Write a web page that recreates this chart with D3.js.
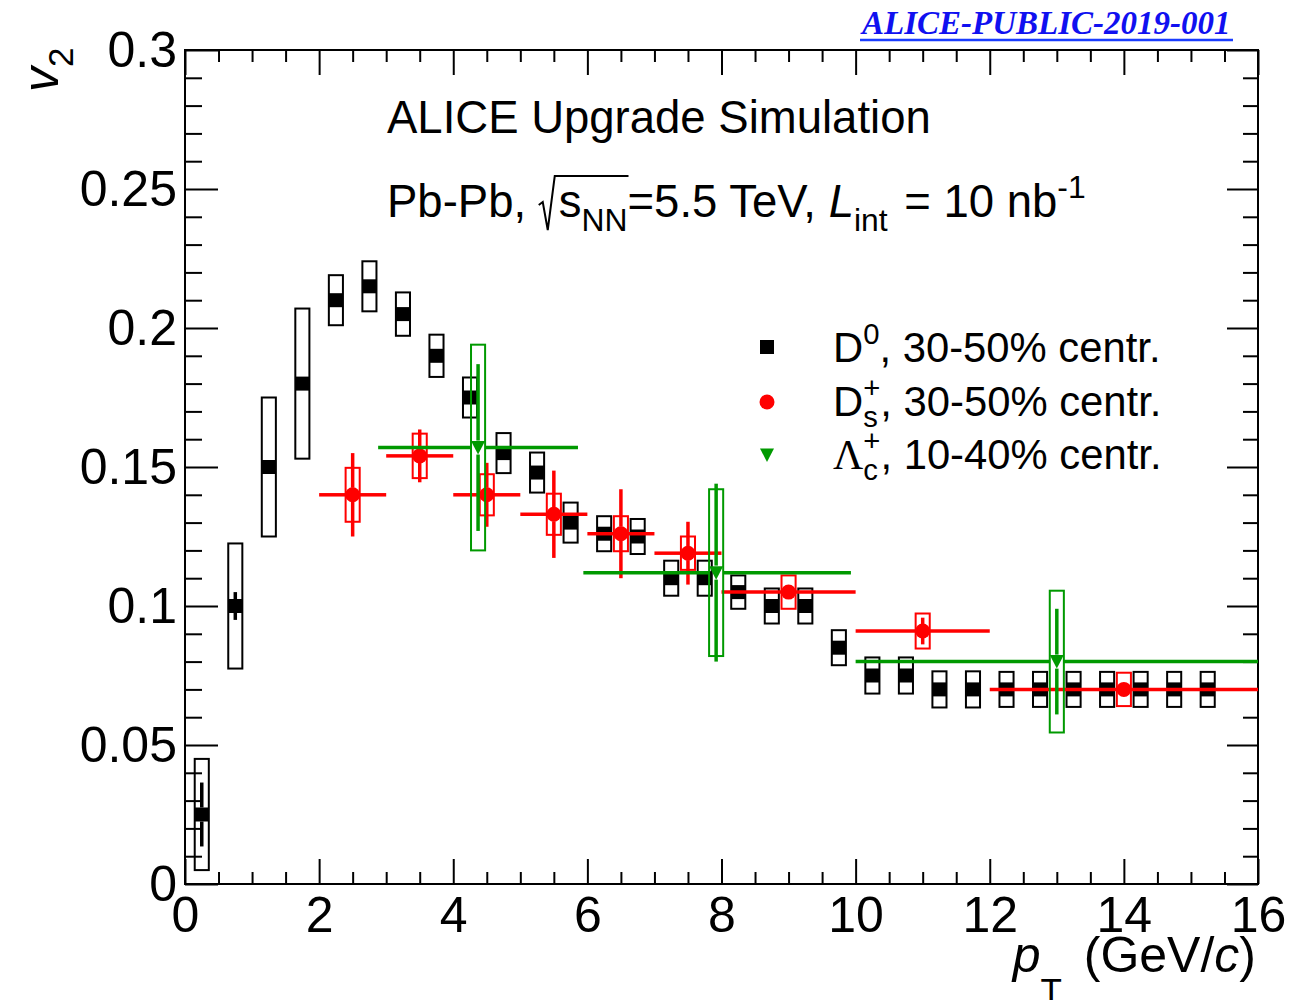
<!DOCTYPE html>
<html><head><meta charset="utf-8">
<script src="https://cdn.jsdelivr.net/npm/d3@7"></script>
<style>body{margin:0;background:#fff} svg{display:block}</style>
</head><body>
<svg id="c" width="1315" height="1000"></svg>
<script>
// ---------------- data ----------------
const ptD0 = [0.25,0.75,1.25,1.75,2.25,2.75,3.25,3.75,4.25,4.75,5.25,5.75,6.25,6.75,7.25,7.75,8.25,8.75,9.25,9.75,10.25,10.75,11.25,11.75,12.25,12.75,13.25,13.75,14.25,14.75,15.25];
const v2D0 = [0.025,0.100,0.150,0.180,0.210,0.215,0.205,0.190,0.175,0.155,0.148,0.130,0.126,0.125,0.110,0.110,0.105,0.100,0.100,0.085,0.075,0.075,0.070,0.070,0.070,0.070,0.070,0.070,0.070,0.070,0.070];
const statD0 = [0.0115,0.005,0.002,0.002,0.002,0.002,0.002,0.002,0.002,0.002,0.002,0.002,0.002,0.002,0.002,0.002,0.002,0.002,0.002,0.002,0.002,0.002,0.002,0.002,0.002,0.002,0.002,0.002,0.002,0.002,0.002];
const sysD0 = [0.020,0.0225,0.025,0.027,0.009,0.009,0.0078,0.0076,0.0072,0.0072,0.0072,0.0072,0.0063,0.0063,0.0063,0.0063,0.006,0.0063,0.0063,0.0063,0.0065,0.0065,0.0065,0.0065,0.0063,0.0063,0.0063,0.0063,0.0063,0.0063,0.0063];

const ptDs = [2.5,3.5,4.5,5.5,6.5,7.5,9,11,14];
const loDs = [2,3,4,5,6,7,8,10,12];
const hiDs = [3,4,5,6,7,8,10,12,16];
const v2Ds = [0.140,0.154,0.140,0.133,0.126,0.119,0.105,0.091,0.070];
const statDs = [0.015,0.0095,0.0115,0.0157,0.016,0.0113,0.002,0.0048,0.002];
const sysDs = [0.0097,0.008,0.0074,0.0074,0.0063,0.006,0.006,0.0063,0.006];

const ptLc = [4.37,7.92,13.0];
const loLc = [2.88,5.94,10.0];
const hiLc = [5.86,9.93,16.0];
const v2Lc = [0.157,0.112,0.080];
const statLc = [0.030,0.032,0.019];
const sysLc = [0.037,0.030,0.0255];

const xMajor = [0,2,4,6,8,10,12,14,16];
const xMinor = [0.5,1,1.5,2.5,3,3.5,4.5,5,5.5,6.5,7,7.5,8.5,9,9.5,10.5,11,11.5,12.5,13,13.5,14.5,15,15.5];
const yMajor = [0,0.05,0.1,0.15,0.2,0.25,0.3];
const yMajorLabels = ["0","0.05","0.1","0.15","0.2","0.25","0.3"];
const yMinor = [0.01,0.02,0.03,0.04,0.06,0.07,0.08,0.09,0.11,0.12,0.13,0.14,0.16,0.17,0.18,0.19,0.21,0.22,0.23,0.24,0.26,0.27,0.28,0.29];

// ---------------- setup ----------------
const FONT = "'Liberation Sans', Arial, Helvetica, sans-serif";
const SERIF = "'Liberation Serif', 'Times New Roman', serif";
const svg = d3.select("#c");
const X0 = 185, X1 = 1258, YB = 884, YT = 50;
const x = d3.scaleLinear().domain([0,16]).range([X0,X1]);
const y = d3.scaleLinear().domain([0,0.3]).range([YB,YT]);
const RED = "#ff0000", GREEN = "#009900", BLACK = "#000000";
const BOXW = 0.105, GAP = 7;

// ---------------- axes ----------------
function styleAxis(g){ g.select(".domain").remove(); g.selectAll("line").attr("stroke","#000").attr("stroke-width",2); g.selectAll("text").attr("font-family",FONT).attr("font-size",50).attr("fill","#000"); }
svg.append("g").attr("transform",`translate(0,${YB})`).call(d3.axisBottom(x).tickValues(xMajor).tickSize(-25).tickPadding(12).tickFormat(d3.format("d"))).call(styleAxis);
svg.append("g").attr("transform",`translate(0,${YB})`).call(d3.axisBottom(x).tickValues(xMinor).tickSize(-12).tickFormat("")).call(styleAxis);
svg.append("g").attr("transform",`translate(0,${YT})`).call(d3.axisTop(x).tickValues(xMajor).tickSize(-25).tickFormat("")).call(styleAxis);
svg.append("g").attr("transform",`translate(0,${YT})`).call(d3.axisTop(x).tickValues(xMinor).tickSize(-12).tickFormat("")).call(styleAxis);
svg.append("g").attr("transform",`translate(${X0},0)`).call(d3.axisLeft(y).tickValues(yMajor).tickSize(-33).tickPadding(8).tickFormat((d,i)=>yMajorLabels[i])).call(styleAxis);
svg.append("g").attr("transform",`translate(${X0},0)`).call(d3.axisLeft(y).tickValues(yMinor).tickSize(-17).tickFormat("")).call(styleAxis);
svg.append("g").attr("transform",`translate(${X1},0)`).call(d3.axisRight(y).tickValues(yMajor).tickSize(-31).tickFormat("")).call(styleAxis);
svg.append("g").attr("transform",`translate(${X1},0)`).call(d3.axisRight(y).tickValues(yMinor).tickSize(-15).tickFormat("")).call(styleAxis);
svg.append("rect").attr("x",X0).attr("y",YT).attr("width",X1-X0).attr("height",YB-YT).attr("fill","none").attr("stroke","#000").attr("stroke-width",2);

// ---------------- series ----------------
function drawMarker(g, type, cx, cy, color){
  if(type==="square") g.append("rect").attr("x",cx-7).attr("y",cy-7).attr("width",14).attr("height",14).attr("fill",color);
  else if(type==="circle") g.append("circle").attr("cx",cx).attr("cy",cy).attr("r",7.5).attr("fill",color);
  else g.append("path").attr("d",`M${cx-7},${cy-6.5}L${cx+7},${cy-6.5}L${cx},${cy+7}Z`).attr("fill",color);
}
function drawSeries(pts, vals, stat, sys, lo, hi, color, marker){
  const g = svg.append("g");
  const idx = d3.range(pts.length);
  g.selectAll(null).data(idx).join("rect")
    .attr("x", i=>x(pts[i]-BOXW)).attr("width", i=>x(pts[i]+BOXW)-x(pts[i]-BOXW))
    .attr("y", i=>y(vals[i]+sys[i])).attr("height", i=>y(vals[i]-sys[i])-y(vals[i]+sys[i]))
    .attr("fill","none").attr("stroke",color).attr("stroke-width",2);
  idx.forEach(i=>{
    const cx = x(pts[i]), cy = y(vals[i]);
    const yt = y(vals[i]+stat[i]), yb = y(vals[i]-stat[i]);
    if (yt < cy-GAP) g.append("line").attr("x1",cx).attr("x2",cx).attr("y1",yt).attr("y2",cy-GAP).attr("stroke",color).attr("stroke-width",3.5);
    if (yb > cy+GAP) g.append("line").attr("x1",cx).attr("x2",cx).attr("y1",cy+GAP).attr("y2",yb).attr("stroke",color).attr("stroke-width",3.5);
    if (lo) {
      g.append("line").attr("x1",x(lo[i])).attr("x2",cx-GAP).attr("y1",cy).attr("y2",cy).attr("stroke",color).attr("stroke-width",3.5);
      g.append("line").attr("x1",cx+GAP).attr("x2",x(hi[i])).attr("y1",cy).attr("y2",cy).attr("stroke",color).attr("stroke-width",3.5);
    }
    drawMarker(g, marker, cx, cy, color);
  });
}
drawSeries(ptD0, v2D0, statD0, sysD0, null, null, BLACK, "square");
drawSeries(ptDs, v2Ds, statDs, sysDs, loDs, hiDs, RED, "circle");
drawSeries(ptLc, v2Lc, statLc, sysLc, loLc, hiLc, GREEN, "tri");

// ---------------- rich text ----------------
function rich(x0, y0, segs, size, opts){
  opts = opts||{};
  const subS = opts.sub!==undefined ? opts.sub : 0.3, supS = opts.sup!==undefined ? opts.sup : 0.42;
  const g = svg.append("g");
  let cx = 0; const marks = {};
  const mk = (t, px, py, fs, fam, it) => g.append("text").attr("x",px).attr("y",py).attr("font-size",fs)
      .attr("font-family",fam||FONT).attr("font-style",it?"italic":"normal").attr("xml:space","preserve")
      .style("white-space","pre").attr("fill","#000").text(t);
  segs.forEach(s=>{
    if (s.mark){ marks[s.mark]=cx; cx += (s.w||0); return; }
    if (s.stack){
      const a = mk(s.stack[0], cx, -supS*size, size*0.7), b = mk(s.stack[1], cx, subS*size, size*0.7);
      cx += Math.max(a.node().getComputedTextLength(), b.node().getComputedTextLength()); return;
    }
    const fs = size*((s.sub||s.sup)?0.7:1);
    const dy = s.sub ? subS*size : s.sup ? -supS*size : 0;
    const el = mk(s.t, cx, dy, fs, s.fam, s.it);
    cx += el.node().getComputedTextLength() + (s.dx||0);
  });
  const off = opts.anchor==="end" ? -cx : 0;
  g.attr("transform",`translate(${x0},${y0}) rotate(${opts.rot||0}) translate(${off},0)`);
  return {g, marks, width:cx};
}

// header texts
rich(387, 133, [{t:"ALICE Upgrade Simulation"}], 45.5);
const r2 = rich(387, 217, [{t:"Pb-Pb, "},{mark:"s0",w:20},{t:"s"},{t:"NN",sub:1},{mark:"s1"},{t:"=5.5 TeV, "},{t:"L",it:1},{t:"int",sub:1,dx:4},{t:" = 10 nb"},{t:"-1",sup:1}], 45.5);
{
  const a = r2.marks.s0, b = r2.marks.s1;
  r2.g.append("path").attr("d",`M${a},${-12}L${a+4},${-15}L${a+9},${13}L${a+16},${-41}L${b+1},${-41}`)
    .attr("fill","none").attr("stroke","#000").attr("stroke-width",2);
}

// axis titles
rich(1256, 972, [{t:"p",it:1},{t:"T",sub:1,dx:8},{t:" (GeV/"},{t:"c",it:1},{t:")"}], 50, {anchor:"end", sub:0.62});
rich(58, 92, [{t:"v",it:1},{t:"2",sub:1}], 50, {rot:-90});

// legend
drawMarker(svg, "square", 767, 347, BLACK);
drawMarker(svg, "circle", 767, 402, RED);
drawMarker(svg, "tri", 767, 455, GREEN);
rich(833, 362, [{t:"D"},{t:"0",sup:1},{t:", 30-50% centr."}], 41.8);
rich(833, 416, [{t:"D"},{stack:["+","s"]},{t:", 30-50% centr."}], 41.8, {sub:0.27});
rich(833, 469, [{t:"Λ",fam:SERIF},{stack:["+","c"]},{t:", 10-40% centr."}], 41.8, {sub:0.27});

// reference tag
svg.append("text").attr("x",862).attr("y",34).attr("font-family",SERIF).attr("font-style","italic").attr("font-weight","bold")
  .attr("font-size",33).attr("fill","#1010f0").text("ALICE-PUBLIC-2019-001");
svg.append("line").attr("x1",860).attr("x2",1233).attr("y1",40).attr("y2",40).attr("stroke","#1a3cff").attr("stroke-width",2.5);
</script>
</body></html>
